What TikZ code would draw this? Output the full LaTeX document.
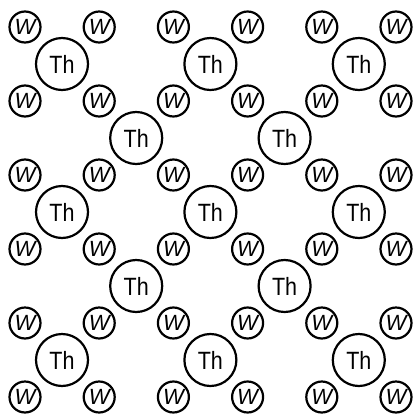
\documentclass[tikz,border=0pt]{standalone}
\usepackage{fontspec}
\setmainfont{Liberation Sans}
\begin{document}
\begin{tikzpicture}[x=1pt,y=-1pt,
  watom/.style={circle,draw,line width=2.2pt,minimum size=31pt,inner sep=0pt,
    font=\fontsize{22}{22}\selectfont\itshape},
  thatom/.style={circle,draw,line width=2.2pt,minimum size=52pt,inner sep=0pt,
    font=\fontsize{25}{25}\selectfont}]
\useasboundingbox (0,0) rectangle (414,416);
\foreach \i in {0,...,5}{
  \foreach \j in {0,...,5}{
    \node[watom] (w-\i-\j) at ({25+74.2*\i},{27+74*\j}) {W};
  }
}
\foreach \i/\j in {0/0,2/0,4/0,1/1,3/1,0/2,2/2,4/2,1/3,3/3,0/4,2/4,4/4}{
  \node[thatom] (th-\i-\j) at ({62+74.2*\i},{64+74*\j}) {\scalebox{0.86}[1]{Th}};
}
\end{tikzpicture}
\end{document}
